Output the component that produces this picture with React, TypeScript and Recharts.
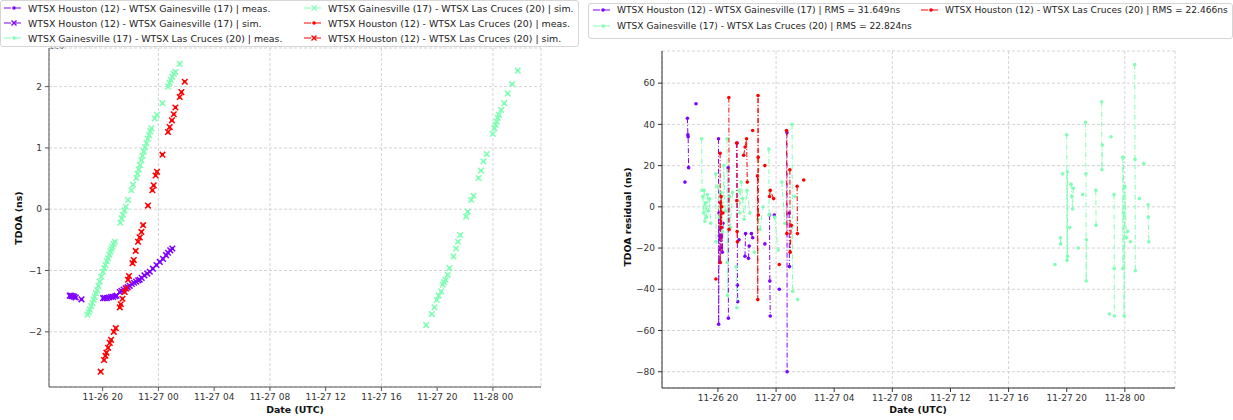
import React from 'react';
import { ScatterChart, Scatter, XAxis, YAxis, CartesianGrid } from 'recharts';

type Pt = [number, number];

// time axis: hours since 11-26 00:00 UTC
// TDOA values are in units of 1e6 ns
const houGainTdoa: Pt[] = [
  [17.64, -1.41], [17.72, -1.41], [17.8, -1.42], [17.88, -1.42], [17.96, -1.43], [18.07, -1.44], [18.48, -1.47],
  [20.03, -1.45], [20.15, -1.45], [20.3, -1.45], [20.45, -1.44], [20.6, -1.43], [20.75, -1.43], [20.9, -1.42],
  [21.0, -1.41], [21.23, -1.35], [21.35, -1.33], [21.5, -1.31], [21.65, -1.29], [21.8, -1.27], [21.94, -1.25],
  [22.1, -1.22], [22.25, -1.2], [22.4, -1.18], [22.55, -1.16], [22.66, -1.15], [22.8, -1.12], [23.0, -1.08],
  [23.2, -1.05], [23.38, -1.02], [23.6, -0.97], [23.86, -0.91], [24.1, -0.86], [24.33, -0.81], [24.55, -0.75],
  [24.69, -0.71], [24.85, -0.67], [25.0, -0.64],
];

const gainLasTdoa: Pt[] = [
  [18.91, -1.72], [19.0, -1.68], [19.08, -1.64], [19.17, -1.58], [19.27, -1.53], [19.35, -1.48], [19.43, -1.43],
  [19.52, -1.37], [19.6, -1.32], [19.7, -1.25], [19.79, -1.18], [19.9, -1.1], [20.03, -1.02], [20.12, -0.96],
  [20.2, -0.91], [20.3, -0.85], [20.39, -0.8], [20.48, -0.74], [20.56, -0.69], [20.63, -0.65], [20.7, -0.61],
  [20.79, -0.57], [20.87, -0.53], [21.27, -0.22], [21.36, -0.15], [21.46, -0.09], [21.56, -0.02], [21.66, 0.04],
  [21.82, 0.15], [22.06, 0.31], [22.18, 0.4], [22.42, 0.51], [22.5, 0.58], [22.59, 0.65], [22.68, 0.72],
  [22.78, 0.8], [22.86, 0.87], [22.95, 0.94], [23.05, 1.01], [23.14, 1.08], [23.24, 1.15], [23.33, 1.21],
  [23.42, 1.27], [23.5, 1.32], [23.73, 1.48], [23.9, 1.54], [24.29, 1.73], [24.69, 2.0], [24.8, 2.06],
  [24.88, 2.11], [25.0, 2.16], [25.1, 2.21], [25.22, 2.24], [25.53, 2.37],
  [43.21, -1.89], [43.61, -1.71], [43.81, -1.6], [43.97, -1.48], [44.11, -1.41], [44.29, -1.34], [44.4, -1.23],
  [44.5, -1.19], [44.6, -1.15], [44.76, -1.07], [44.88, -0.96], [45.17, -0.77], [45.36, -0.64], [45.5, -0.53],
  [45.65, -0.42], [46.08, -0.12], [46.19, -0.04], [46.44, 0.15], [46.6, 0.22], [46.98, 0.51], [47.15, 0.63],
  [47.32, 0.78], [47.56, 0.9], [47.99, 1.23], [48.11, 1.32], [48.2, 1.38], [48.27, 1.43], [48.35, 1.49],
  [48.42, 1.54], [48.59, 1.62], [48.82, 1.73], [49.06, 1.89], [49.38, 2.04], [49.78, 2.26],
];

const houLasTdoa: Pt[] = [
  [19.86, -2.65], [20.1, -2.46], [20.2, -2.39], [20.27, -2.34], [20.39, -2.26], [20.51, -2.18], [20.6, -2.13],
  [20.8, -2.0], [20.94, -1.94], [21.23, -1.6], [21.3, -1.55], [21.42, -1.46], [21.58, -1.35], [21.7, -1.29],
  [21.82, -1.15], [21.89, -1.09], [22.14, -0.88], [22.23, -0.83], [22.37, -0.68], [22.54, -0.53], [22.66, -0.46],
  [22.78, -0.37], [22.9, -0.26], [23.25, 0.06], [23.57, 0.31], [23.66, 0.39], [23.8, 0.55], [23.9, 0.61],
  [24.29, 0.89], [24.69, 1.26], [24.81, 1.34], [24.97, 1.45], [25.1, 1.55], [25.22, 1.66], [25.53, 1.83],
  [25.65, 1.91], [25.89, 2.08],
];

// TDOA residuals in ns, split into runs of consecutive epochs
const houGainResid: Pt[][] = [
  [[17.73, 12]],
  [[17.9, 43], [17.93, 35], [17.95, 34], [17.98, 19]],
  [[18.49, 50]],
  [[20.04, 33], [20.05, -57], [20.07, -3], [20.1, -14], [20.13, -27]],
  [[20.18, -5], [20.22, -20], [20.26, -10], [20.3, -22], [20.34, -8]],
  [[20.7, 19], [20.72, -54]],
  [[21.32, 31], [21.34, -38], [21.36, -46]],
  [[21.45, -16]],
  [[21.86, -24], [21.9, -13]],
  [[22.1, -25], [22.15, -19]],
  [[22.3, -13], [22.39, -15]],
  [[23.23, -18]],
  [[23.55, -4], [23.57, -36], [23.6, -53]],
  [[23.88, -4]],
  [[24.22, -40]],
  [[24.75, 36], [24.76, -80]],
  [[24.9, -3], [24.92, -29]],
];

const gainLasResid: Pt[][] = [
  [[18.88, 33], [18.9, 8]],
  [[18.95, 5], [19.0, -3], [19.05, 8], [19.1, -7], [19.15, 2], [19.2, -5], [19.28, 6], [19.35, -2], [19.42, 4], [19.5, -8]],
  [[19.85, 16], [19.87, -17]],
  [[20.0, 10], [20.1, -5], [20.2, 7], [20.3, -12], [20.4, 20], [20.5, -2]],
  [[20.62, 33], [20.64, -27], [20.66, -43]],
  [[20.8, 5], [20.85, -10], [21.0, 7]],
  [[21.25, -29], [21.3, -49]],
  [[21.45, 8], [21.5, -3], [21.6, 12], [21.7, 4], [21.8, -6], [22.0, 8], [22.2, -3]],
  [[22.5, -22]],
  [[22.75, -6], [22.9, -11], [23.1, 0]],
  [[23.5, 28], [23.52, -4]],
  [[23.9, -5], [24.15, -21]],
  [[24.4, 12], [24.6, -8]],
  [[25.1, 40], [25.14, -41]],
  [[25.3, 5]],
  [[25.48, -45]],
  [[43.19, -28]],
  [[43.56, -15], [43.58, -18]],
  [[43.72, 16]],
  [[44.0, 35], [44.02, -26], [44.04, 17], [44.06, -24]],
  [[44.2, -10]],
  [[44.3, 11], [44.35, 5], [44.4, -1], [44.45, 9]],
  [[44.8, -20]],
  [[45.1, 6]],
  [[45.3, 41], [45.32, 16], [45.34, -36], [45.36, -16]],
  [[46.0, 8], [46.02, -9]],
  [[46.4, 51], [46.42, 18], [46.45, 30]],
  [[46.94, -52]],
  [[47.05, 34]],
  [[47.26, 6], [47.27, -30], [47.28, -53]],
  [[47.85, 24], [47.87, -30], [47.9, 24], [47.92, -3], [47.95, -53], [48.0, 10], [48.1, -15], [48.2, -12]],
  [[48.38, -17]],
  [[48.68, 69], [48.7, 23], [48.72, -31]],
  [[49.0, 4]],
  [[49.3, 21]],
  [[49.6, 1], [49.62, -5], [49.65, -17]],
];

const houLasResid: Pt[][] = [
  [[19.86, -35]],
  [[20.15, 26], [20.16, -27], [20.18, 2], [20.2, -8], [20.22, 5], [20.24, -10], [20.26, 0]],
  [[20.34, -3]],
  [[20.75, 53], [20.77, -11]],
  [[21.28, 31], [21.3, 3], [21.32, -12], [21.34, -17]],
  [[21.77, 25], [21.87, 29], [21.97, 33], [22.02, 12]],
  [[22.39, 37]],
  [[22.72, 15], [22.74, -45], [22.76, 54], [22.77, 24], [22.78, -4]],
  [[23.23, 20]],
  [[23.55, 5], [23.6, 8], [23.83, 4]],
  [[24.22, -28]],
  [[24.72, 37], [24.74, -13]],
  [[24.95, 18], [24.97, -22], [25.05, -9]],
  [[25.45, 10], [25.47, -13]],
  [[25.9, 13]],
];

const rmsNs = [31.649, 22.824, 22.466];

const hourTicks = [20, 24, 28, 32, 36, 40, 44, 48];
const tdoaTicks = [-2, -1, 0, 1, 2];
const residTicks = [-80, -60, -40, -20, 0, 20, 40, 60];

const PURPLE = '#8000ff';
const GREEN = '#80ffb4';
const RED = '#ff0000';

const FONT = '"DejaVu Sans", sans-serif';
const TIME_DOMAIN: [number, number] = [16.15, 51.45];

const toXY = (pts: Pt[]) => pts.map(([x, y]) => ({ x, y }));

const fmtHour = (h: number) => {
  const day = 26 + Math.floor(h / 24);
  const hh = String(h % 24).padStart(2, '0');
  return `11-${day} ${hh}`;
};

const fmtSigned = (v: number) => (v < 0 ? `\u2212${-v}` : `${v}`);

const dotShape = (color: string, r: number) => (p: any) =>
  <circle cx={p.cx} cy={p.cy} r={r} fill={color} />;

const crossShape = (color: string) => (p: any) => {
  const s = 2.8;
  return (
    <path
      d={`M${p.cx - s},${p.cy - s}L${p.cx + s},${p.cy + s}M${p.cx - s},${p.cy + s}L${p.cx + s},${p.cy - s}`}
      stroke={color}
      strokeWidth={1.5}
      fill="none"
    />
  );
};

const tickStyle = { fontSize: 9, fill: '#333', fontFamily: FONT };

type LegendItem = { label: string; color: string; marker: 'dot' | 'cross'; x: number; y: number };

const Handle = ({ color, marker }: { color: string; marker: 'dot' | 'cross' }) => (
  <svg width={20} height={10} style={{ position: 'absolute', left: 0, top: -5 }}>
    <line x1={0} y1={5} x2={20} y2={5} stroke={color} strokeWidth={1.2} strokeDasharray="7 3" />
    {marker === 'dot' ? (
      <circle cx={10} cy={5} r={1.8} fill={color} />
    ) : (
      <path d="M7.5,2.5L12.5,7.5M7.5,7.5L12.5,2.5" stroke={color} strokeWidth={1.3} />
    )}
  </svg>
);

const LegendBox = ({ items, box, fontSize }: { items: LegendItem[]; box: React.CSSProperties; fontSize: number }) => (
  <>
    <div
      style={{
        position: 'absolute',
        background: 'rgba(255,255,255,0.92)',
        border: '1px solid #d6d6d6',
        borderRadius: 3,
        ...box,
      }}
    />
    {items.map((it) => (
      <div key={it.label} style={{ position: 'absolute', left: it.x, top: it.y }}>
        <Handle color={it.color} marker={it.marker} />
        <span
          style={{
            position: 'absolute',
            left: 24,
            top: -5.5,
            whiteSpace: 'nowrap',
            fontSize,
            lineHeight: '11px',
            color: '#222',
            fontFamily: FONT,
          }}
        >
          {it.label}
        </span>
      </div>
    ))}
  </>
);

const tdoaLegend: LegendItem[] = [
  { label: 'WTSX Houston (12) - WTSX Gainesville (17) | meas.', color: PURPLE, marker: 'dot', x: 4, y: 8 },
  { label: 'WTSX Houston (12) - WTSX Gainesville (17) | sim.', color: PURPLE, marker: 'cross', x: 4, y: 23 },
  { label: 'WTSX Gainesville (17) - WTSX Las Cruces (20) | meas.', color: GREEN, marker: 'dot', x: 4, y: 38 },
  { label: 'WTSX Gainesville (17) - WTSX Las Cruces (20) | sim.', color: GREEN, marker: 'cross', x: 304, y: 8 },
  { label: 'WTSX Houston (12) - WTSX Las Cruces (20) | meas.', color: RED, marker: 'dot', x: 304, y: 23 },
  { label: 'WTSX Houston (12) - WTSX Las Cruces (20) | sim.', color: RED, marker: 'cross', x: 304, y: 38 },
];

const residLegend: LegendItem[] = [
  { label: `WTSX Houston (12) - WTSX Gainesville (17) | RMS = ${rmsNs[0]}ns`, color: PURPLE, marker: 'dot', x: 593, y: 10 },
  { label: `WTSX Gainesville (17) - WTSX Las Cruces (20) | RMS = ${rmsNs[1]}ns`, color: GREEN, marker: 'dot', x: 593, y: 26 },
  { label: `WTSX Houston (12) - WTSX Las Cruces (20) | RMS = ${rmsNs[2]}ns`, color: RED, marker: 'dot', x: 921, y: 10 },
];

const axisTitle: React.CSSProperties = {
  position: 'absolute',
  fontFamily: FONT,
  fontWeight: 'bold',
  fontSize: 9.4,
  color: '#111',
  whiteSpace: 'nowrap',
};

const FrameAxes = ({ color }: { color: string }) => (
  <>
    <XAxis xAxisId="top" orientation="top" type="number" dataKey="x" domain={TIME_DOMAIN}
      allowDataOverflow height={0} tick={false} tickLine={false} stroke={color} />
    <YAxis yAxisId="right" orientation="right" type="number" dataKey="y"
      width={0} tick={false} tickLine={false} stroke={color} />
  </>
);

const residSeries = [
  { runs: houGainResid, color: PURPLE },
  { runs: gainLasResid, color: GREEN },
  { runs: houLasResid, color: RED },
];

export default function App() {
  const gridProps = { stroke: '#d4d4d4', strokeDasharray: '3 2' };
  return (
    <div style={{ position: 'absolute', left: 0, top: 0, width: 1233, height: 420, background: '#fff', overflow: 'hidden' }}>
      <span style={{ position: 'absolute', left: 49, top: 43, fontSize: 8, lineHeight: '8px', fontFamily: FONT, color: '#555' }}>1e6</span>

      <div style={{ position: 'absolute', left: 0, top: 0 }}>
        <ScatterChart width={560} height={420} margin={{ top: 48, right: 19, bottom: 3, left: 19 }}>
          <CartesianGrid {...gridProps} />
          <XAxis type="number" dataKey="x" domain={TIME_DOMAIN} ticks={hourTicks} tickFormatter={fmtHour}
            allowDataOverflow height={30} tick={tickStyle} tickSize={4} tickMargin={3} stroke="#555" />
          <YAxis type="number" dataKey="y" domain={[-2.9, 2.63]} ticks={tdoaTicks} allowDataOverflow
            width={30} tick={tickStyle} tickSize={4} tickMargin={3} stroke="#555" tickFormatter={fmtSigned} />
          {FrameAxes({ color: '#555' })}
          <Scatter data={toXY(houGainTdoa)} shape={dotShape(PURPLE, 1.6)} isAnimationActive={false} />
          <Scatter data={toXY(houGainTdoa)} shape={crossShape(PURPLE)} isAnimationActive={false} />
          <Scatter data={toXY(gainLasTdoa)} shape={dotShape(GREEN, 1.6)} isAnimationActive={false} />
          <Scatter data={toXY(gainLasTdoa)} shape={crossShape(GREEN)} isAnimationActive={false} />
          <Scatter data={toXY(houLasTdoa)} shape={dotShape(RED, 1.6)} isAnimationActive={false} />
          <Scatter data={toXY(houLasTdoa)} shape={crossShape(RED)} isAnimationActive={false} />
        </ScatterChart>
      </div>

      <div style={{ position: 'absolute', left: 580, top: 0 }}>
        <ScatterChart width={653} height={420} margin={{ top: 51, right: 58, bottom: 2, left: 52 }}>
          <CartesianGrid {...gridProps} />
          <XAxis type="number" dataKey="x" domain={TIME_DOMAIN} ticks={hourTicks} tickFormatter={fmtHour}
            allowDataOverflow height={30} tick={tickStyle} tickSize={4} tickMargin={3} stroke="#333" />
          <YAxis type="number" dataKey="y" domain={[-87.9, 75.6]} ticks={residTicks} allowDataOverflow
            width={30} tick={tickStyle} tickSize={4} tickMargin={3} stroke="#333" tickFormatter={fmtSigned} />
          {FrameAxes({ color: '#333' })}
          {residSeries.flatMap((s, si) =>
            s.runs.map((run, ri) => (
              <Scatter
                key={`${si}-${ri}`}
                data={toXY(run)}
                shape={dotShape(s.color, 1.8)}
                lineType="joint"
                line={{ stroke: s.color, strokeWidth: 1, strokeDasharray: '5 2 1 2' }}
                isAnimationActive={false}
              />
            ))
          )}
        </ScatterChart>
      </div>

      <LegendBox items={tdoaLegend} box={{ left: 0, top: 0, width: 577, height: 45 }} fontSize={9.4} />
      <LegendBox items={residLegend} box={{ left: 588, top: 3, width: 643, height: 34 }} fontSize={9.1} />

      <div style={{ ...axisTitle, left: 295, top: 404, transform: 'translateX(-50%)' }}>Date (UTC)</div>
      <div style={{ ...axisTitle, left: 918, top: 404, transform: 'translateX(-50%)' }}>Date (UTC)</div>
      <div style={{ ...axisTitle, left: 18, top: 218, transform: 'translate(-50%, -50%) rotate(-90deg)' }}>TDOA (ns)</div>
      <div style={{ ...axisTitle, left: 627, top: 217, transform: 'translate(-50%, -50%) rotate(-90deg)' }}>TDOA residual (ns)</div>
    </div>
  );
}
